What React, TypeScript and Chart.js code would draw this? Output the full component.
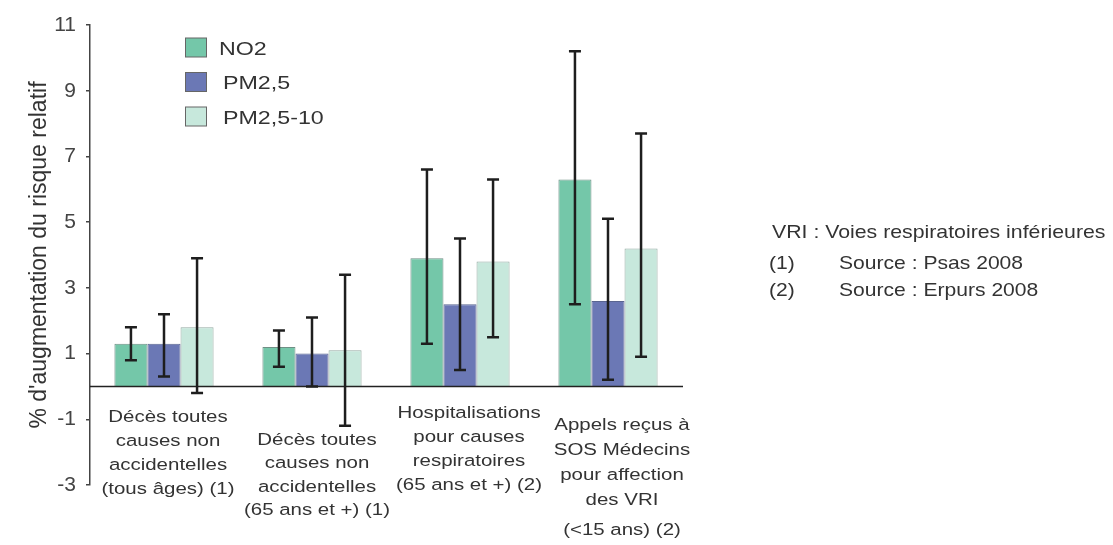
import React, { useEffect, useRef } from 'react';
import { Chart, registerables } from 'chart.js';

Chart.register(...registerables);

// ---------- data ----------
const categories = ['Décès toutes causes (tous âges)', 'Décès toutes causes (65+)', 'Hospitalisations', 'Appels SOS Médecins'];
const categoryLines: string[][] = [
  ['Décès toutes', 'causes non', 'accidentelles', '(tous âges) (1)'],
  ['Décès toutes', 'causes non', 'accidentelles', '(65 ans et +) (1)'],
  ['Hospitalisations', 'pour causes', 'respiratoires', '(65 ans et +) (2)'],
  ['Appels reçus à', 'SOS Médecins', 'pour affection', 'des VRI', '(<15 ans) (2)'],
];
const seriesNames = ['NO2', 'PM2,5', 'PM2,5-10'];
const no2Values = [1.3, 1.2, 3.9, 6.3];
const no2Low = [0.8, 0.6, 1.3, 2.5];
const no2High = [1.8, 1.7, 6.6, 10.2];
const pm25Values = [1.3, 1.0, 2.5, 2.6];
const pm25Low = [0.3, 0.0, 0.5, 0.2];
const pm25High = [2.2, 2.1, 4.5, 5.1];
const pm2510Values = [1.8, 1.1, 3.8, 4.2];
const pm2510Low = [-0.2, -1.2, 1.5, 0.9];
const pm2510High = [3.9, 3.4, 6.3, 7.7];
const yTicks = [-3, -1, 1, 3, 5, 7, 9, 11];
const yTitle = "% d'augmentation du risque relatif";
const noteTitle = 'VRI : Voies respiratoires inférieures';
const sourceNums = ['(1)', '(2)'];
const sourceTexts = ['Source : Psas 2008', 'Source : Erpurs 2008'];

// ---------- styles / layout ----------
const FONT = '"Liberation Sans", Arial, Helvetica, sans-serif';
const fills = ['#74c7a9', '#6b78b5', '#c7e8dc'];
const borders = ['#6f8f85', '#5a6590', '#95aaa3'];
const TEXT = '#333333';
const labelOffsetX = [4, 5, 9, 14];
const labelFirstBaseline = [421.5, 444.5, 417.5, 430];
const labelLineGaps = [24, 23.6, 24, 25];

function drawText(ctx: CanvasRenderingContext2D, text: string, x: number, y: number, size: number, sx: number, align: CanvasTextAlign) {
  ctx.save();
  ctx.font = `${size}px ${FONT}`;
  ctx.fillStyle = TEXT;
  ctx.textBaseline = 'alphabetic';
  ctx.textAlign = align;
  ctx.translate(x, y);
  ctx.scale(sx, 1);
  ctx.fillText(text, 0, 0);
  ctx.restore();
}

const decorPlugin = {
  id: 'decor',
  afterDatasetsDraw(chart: any) {
    const ctx: CanvasRenderingContext2D = chart.ctx;
    const ys = chart.scales.y;
    const area = chart.chartArea;
    const y0 = ys.getPixelForValue(0);
    ctx.save();
    ctx.strokeStyle = '#222';
    ctx.lineWidth = 1.5;
    ctx.beginPath();
    ctx.moveTo(area.left, y0);
    ctx.lineTo(area.right + 1, y0);
    ctx.stroke();
    // error bars
    ctx.strokeStyle = '#1e1e1e';
    ctx.lineWidth = 2.5;
    chart.data.datasets.forEach((ds: any, i: number) => {
      const meta = chart.getDatasetMeta(i);
      meta.data.forEach((el: any, j: number) => {
        const x = el.x;
        const yl = ys.getPixelForValue(ds.errLow[j]);
        const yh = ys.getPixelForValue(ds.errHigh[j]);
        const cap = 6;
        ctx.beginPath();
        ctx.moveTo(x, yl);
        ctx.lineTo(x, yh);
        ctx.moveTo(x - cap, yh);
        ctx.lineTo(x + cap, yh);
        ctx.moveTo(x - cap, yl);
        ctx.lineTo(x + cap, yl);
        ctx.stroke();
      });
    });
    ctx.restore();
  },
  afterDraw(chart: any) {
    const ctx: CanvasRenderingContext2D = chart.ctx;
    const xs = chart.scales.x;
    // legend
    const legendY = [47.5, 82, 116.5];
    const legendTextX = [219, 223, 223];
    seriesNames.forEach((name, i) => {
      ctx.save();
      ctx.fillStyle = fills[i];
      ctx.strokeStyle = '#666';
      ctx.lineWidth = 1;
      ctx.fillRect(185.5, legendY[i] - 9.5, 21, 19);
      ctx.strokeRect(185.5, legendY[i] - 9.5, 21, 19);
      ctx.restore();
      drawText(ctx, name, legendTextX[i], legendY[i] + 7, 18.6, 1.25, 'left');
    });
    // category labels
    categoryLines.forEach((lines, i) => {
      const cx = xs.getPixelForValue(i) + labelOffsetX[i];
      lines.forEach((line, k) => {
        let yb = labelFirstBaseline[i] + k * labelLineGaps[i];
        if (i === 3 && k === 4) yb += 5;
        drawText(ctx, line, cx, yb, 17.2, 1.19, 'center');
      });
    });
    // notes
    drawText(ctx, noteTitle, 772, 237.5, 18.5, 1.15, 'left');
    const rowBase = [268.5, 296];
    sourceNums.forEach((n, i) => {
      drawText(ctx, n, 769, rowBase[i], 18.5, 1.14, 'left');
      drawText(ctx, sourceTexts[i], 839, rowBase[i], 18.5, 1.14, 'left');
    });
  },
};

export default function App() {
  const ref = useRef<HTMLCanvasElement>(null);
  useEffect(() => {
    if (!ref.current) return;
    const values = [no2Values, pm25Values, pm2510Values];
    const lows = [no2Low, pm25Low, pm2510Low];
    const highs = [no2High, pm25High, pm2510High];
    const chart = new Chart(ref.current, {
      type: 'bar',
      data: {
        labels: categories,
        datasets: seriesNames.map((name, i) => ({
          label: name,
          data: values[i],
          backgroundColor: fills[i],
          borderColor: borders[i],
          borderWidth: 1,
          categoryPercentage: 0.67,
          barPercentage: 1,
          errLow: lows[i],
          errHigh: highs[i],
        })) as any,
      },
      options: {
        responsive: false,
        animation: false,
        events: [],
        layout: { padding: { top: 25, bottom: 60, right: 431, left: 0 } },
        plugins: { legend: { display: false }, tooltip: { enabled: false }, title: { display: false } },
        scales: {
          x: { display: false, offset: true, grid: { display: false } },
          y: {
            min: -3,
            max: 11,
            afterBuildTicks: (s: any) => {
              s.ticks = yTicks.map((v) => ({ value: v }));
            },
            afterFit: (s: any) => {
              s.width = 90;
            },
            ticks: {
              font: { size: 21, family: FONT },
              color: '#444',
              padding: 10,
              callback: (v: any) => String(v),
            },
            grid: { drawOnChartArea: false, drawTicks: true, tickLength: 4, color: '#444', lineWidth: 1.5 },
            border: { display: true, color: '#444', width: 1.5 },
            title: {
              display: true,
              text: yTitle,
              font: { size: 23, family: FONT },
              color: TEXT,
              padding: { top: 26, bottom: 0 },
            },
          },
        },
      },
      plugins: [decorPlugin],
    });
    return () => chart.destroy();
  }, []);
  return (
    <div style={{ position: 'absolute', left: 0, top: 0, width: 1113, height: 545, background: '#fff' }}>
      <canvas ref={ref} width={1113} height={545} style={{ display: 'block' }} />
    </div>
  );
}
